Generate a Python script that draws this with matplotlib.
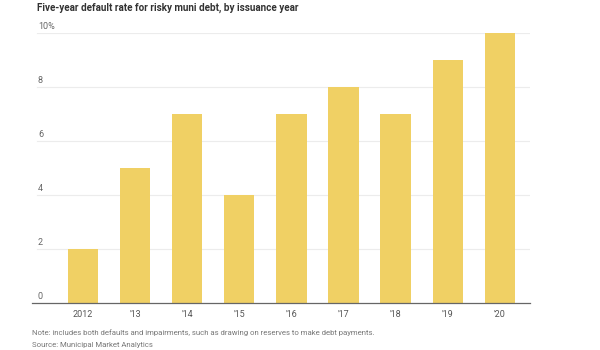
import matplotlib
matplotlib.use("Agg")
import matplotlib.pyplot as plt
import matplotlib.transforms as mtransforms

years = ["2012", "'13", "'14", "'15", "'16", "'17", "'18", "'19", "'20"]
rates = [2, 5, 7, 4, 7, 8, 7, 9, 10]
y_ticks = [0, 2, 4, 6, 8, 10]
y_labels = ["0", "2", "4", "6", "8", "10%"]

title = "Five-year default rate for risky muni debt, by issuance year"
note = "Note: includes both defaults and impairments, such as drawing on reserves to make debt payments."
source = "Source: Municipal Market Analytics"

plt.rcParams["font.family"] = ["Roboto", "DejaVu Sans"]

fig = plt.figure(figsize=(6, 3.5), dpi=100)
fig.patch.set_facecolor("white")
ax = fig.add_axes([32 / 600, 1 - 303 / 350, (530 - 32) / 600, (303 - 33) / 350])

x = list(range(len(years)))
ax.bar(x, rates, width=0.58, color="#F0D064", zorder=2)

ax.set_xlim(-0.98, 8.58)
ax.set_ylim(0, 10)

# gridlines with labels sitting just above them, left-aligned
trans = mtransforms.blended_transform_factory(ax.transAxes, ax.transData)
for v, lab in zip(y_ticks, y_labels):
    if v > 0:
        ax.axhline(v, xmin=0.01, xmax=1, color="#ececec", linewidth=0.8, zorder=1)
    ax.text(0.012, v + 0.06, lab, transform=trans, ha="left", va="bottom",
            fontsize=6.5, color="#666666")

for s in ["top", "right", "left"]:
    ax.spines[s].set_visible(False)
ax.spines["bottom"].set_color("#666666")
ax.spines["bottom"].set_linewidth(0.9)

ax.set_yticks([])
ax.set_xticks(x)
ax.set_xticklabels(years, fontsize=6.5, color="#555555")
ax.tick_params(axis="x", length=0, pad=5)

fig.text(37 / 600, 1 - 8 / 350, title, ha="left", va="center",
         fontsize=7.1, fontweight="bold", color="#333333")
fig.text(32 / 600, 1 - 333 / 350, note, ha="left", va="center",
         fontsize=5.6, color="#777777")
fig.text(32 / 600, 1 - 345 / 350, source, ha="left", va="center",
         fontsize=5.6, color="#777777")

fig.savefig("out.png", dpi=100)
